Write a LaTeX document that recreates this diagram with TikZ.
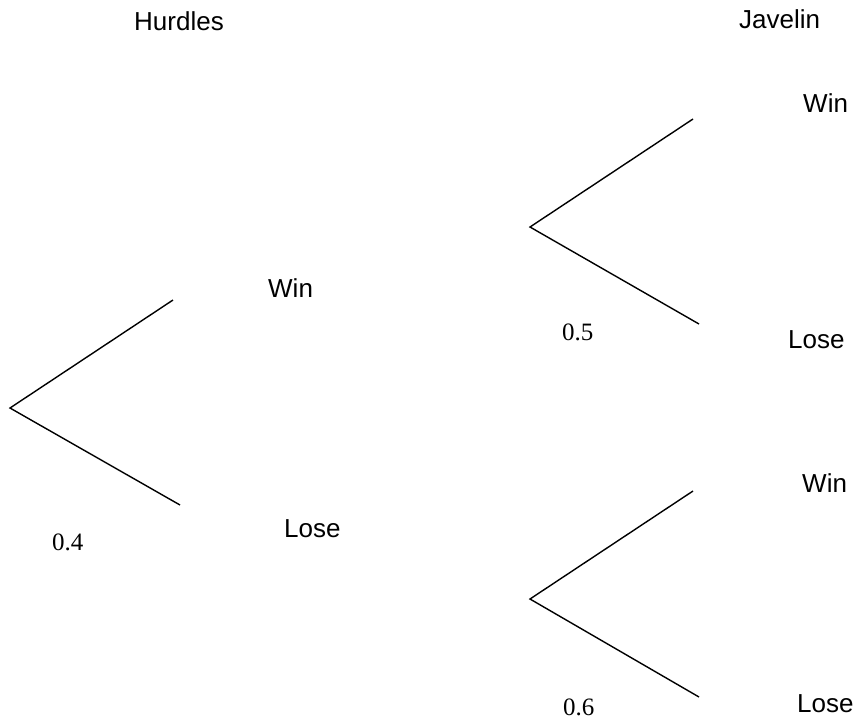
\documentclass[tikz,border=0pt]{standalone}
\usepackage{fontspec}
\setmainfont{Liberation Sans}
\newfontfamily\numfont{Liberation Serif}
\begin{document}
\begin{tikzpicture}[x=1pt,y=-1pt,
  lbl/.style={inner sep=0pt,anchor=base west,font=\fontsize{26}{30}\selectfont},
  num/.style={inner sep=0pt,anchor=base west,font=\numfont\fontsize{25}{30}\selectfont},
  branch/.style={line width=1.4pt,line join=miter}]
\useasboundingbox (0,0) rectangle (858,721);
% headings
\node[lbl] (hurdles) at (134,30) {Hurdles};
\node[lbl] (javelin) at (739,28) {Javelin};
% tree 1
\coordinate (r1) at (10,408);
\coordinate (w1) at (173,300);
\coordinate (l1) at (180,505);
\draw[branch] (w1) -- (r1) -- (l1);
\node[lbl] (win1) at (268,297) {Win};
\node[lbl] (lose1) at (284,537) {Lose};
\node[num] (p1) at (52,550) {0.4};
% tree 2
\coordinate (r2) at (530,227);
\coordinate (w2) at (693,119);
\coordinate (l2) at (699,324);
\draw[branch] (w2) -- (r2) -- (l2);
\node[lbl] (win2) at (803,112) {Win};
\node[lbl] (lose2) at (788,348) {Lose};
\node[num] (p2) at (562,340) {0.5};
% tree 3
\coordinate (r3) at (530,599);
\coordinate (w3) at (693,491);
\coordinate (l3) at (699,697);
\draw[branch] (w3) -- (r3) -- (l3);
\node[lbl] (win3) at (802,492) {Win};
\node[lbl] (lose3) at (797,712) {Lose};
\node[num] (p3) at (563,715) {0.6};
\end{tikzpicture}
\end{document}
